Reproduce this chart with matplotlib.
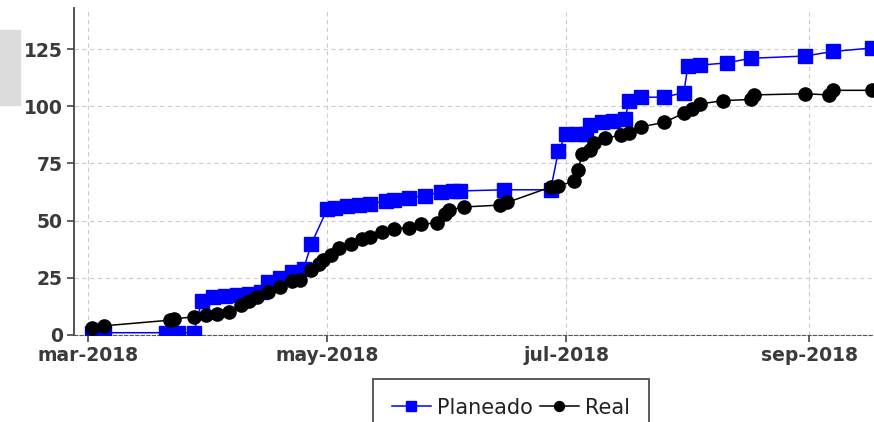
import pandas as pd
import matplotlib
matplotlib.use("Agg")
import matplotlib.pyplot as plt
from matplotlib.patches import Rectangle

# planned progress
plan_dates = ["2018-03-02", "2018-03-05", "2018-03-21", "2018-03-24", "2018-03-28",
              "2018-03-30", "2018-04-02", "2018-04-05", "2018-04-08", "2018-04-11",
              "2018-04-14", "2018-04-16", "2018-04-19", "2018-04-22", "2018-04-25",
              "2018-04-27", "2018-05-01", "2018-05-03", "2018-05-06", "2018-05-09",
              "2018-05-12", "2018-05-16", "2018-05-18", "2018-05-22", "2018-05-26",
              "2018-05-30", "2018-06-02", "2018-06-04", "2018-06-15", "2018-06-27",
              "2018-06-29", "2018-07-01", "2018-07-04", "2018-07-06", "2018-07-07",
              "2018-07-10", "2018-07-13", "2018-07-16", "2018-07-17", "2018-07-20",
              "2018-07-26", "2018-07-31", "2018-08-01", "2018-08-04", "2018-08-11",
              "2018-08-17", "2018-08-31", "2018-09-07", "2018-09-17"]
plan_vals = [1, 1, 1, 1, 1,
             15, 16.5, 17, 17.5, 18,
             19, 23, 25, 27.5, 29,
             40, 55, 55.5, 56.5, 57,
             57.5, 58.5, 59, 60, 61,
             62.5, 63, 63, 63.5, 63.5,
             80.5, 88, 88, 88, 92,
             93, 93.5, 94.5, 102.5, 104,
             104, 106, 117.5, 118, 119,
             121, 122, 124, 125.5]

# real progress
real_dates = ["2018-03-02", "2018-03-05", "2018-03-22", "2018-03-23", "2018-03-28",
              "2018-03-31", "2018-04-03", "2018-04-06", "2018-04-09", "2018-04-11",
              "2018-04-13", "2018-04-16", "2018-04-19", "2018-04-22", "2018-04-24",
              "2018-04-27", "2018-04-29", "2018-04-30", "2018-05-02", "2018-05-04",
              "2018-05-07", "2018-05-10", "2018-05-12", "2018-05-15", "2018-05-18",
              "2018-05-22", "2018-05-25", "2018-05-29", "2018-05-31", "2018-06-01",
              "2018-06-05", "2018-06-14", "2018-06-16", "2018-06-27", "2018-06-29",
              "2018-07-03", "2018-07-04", "2018-07-05", "2018-07-07", "2018-07-08",
              "2018-07-11", "2018-07-15", "2018-07-17", "2018-07-20", "2018-07-26",
              "2018-07-31", "2018-08-02", "2018-08-04", "2018-08-10", "2018-08-17",
              "2018-08-18", "2018-08-31", "2018-09-06", "2018-09-07", "2018-09-17"]
real_vals = [3, 4, 6.5, 7, 8,
             8.7, 9, 10, 13, 15,
             16.6, 19, 21, 23.5, 24,
             28.4, 31, 33, 35, 38,
             40, 42, 43, 45, 46.5,
             47, 48.5, 49, 53, 54.6,
             56, 56.8, 58, 64.7, 65,
             67.5, 72, 79, 81, 84,
             86, 87.5, 88.5, 91, 93,
             97, 99, 101, 102.5, 103,
             105, 105.5, 105, 107, 107]

month_ticks = ["2018-03-01", "2018-05-01", "2018-07-01", "2018-09-01"]
month_labels = ["mar-2018", "may-2018", "jul-2018", "sep-2018"]
y_ticks = [0, 25, 50, 75, 100, 125]

plan_x = pd.to_datetime(plan_dates)
real_x = pd.to_datetime(real_dates)

fig = plt.figure(figsize=(8.74, 4.22), dpi=100)
ax = fig.add_axes([74 / 874, 1 - 335 / 422, 1 - 74 / 874, 327 / 422])

ax.plot(plan_x, plan_vals, color="#0000ff", lw=1.1, marker="s", ms=10,
        mec="#0000ff", label="Planeado", zorder=3)
ax.plot(real_x, real_vals, color="black", lw=1.1, marker="o", ms=9.5,
        label="Real", zorder=4)

ax.set_xlim(pd.Timestamp("2018-02-25 10:00"), pd.Timestamp("2018-09-17 12:00"))
ax.set_ylim(0, 143)
ax.set_yticks(y_ticks)
ax.set_xticks(pd.to_datetime(month_ticks))
ax.set_xticklabels(month_labels)

ax.grid(True, color="#cccccc", linestyle=(0, (4, 3)), linewidth=0.8)
ax.set_axisbelow(True)
for s in ["top", "right"]:
    ax.spines[s].set_visible(False)
ax.spines["left"].set_color("#444444")
ax.spines["left"].set_linewidth(1.3)
ax.spines["bottom"].set_color("#555555")
ax.spines["bottom"].set_linestyle((0, (3, 2)))
ax.tick_params(axis="both", colors="#444444", labelcolor="#3a3a3a",
               labelsize=13.5, length=5, width=1.2, pad=3)
for lab in ax.get_xticklabels() + ax.get_yticklabels():
    lab.set_fontweight("semibold")

# grey block at left edge
fig.patches.append(Rectangle((0, 1 - 105 / 422), 20 / 874, 75 / 422,
                             transform=fig.transFigure, color="#dcdcdc", zorder=0))

leg = fig.legend(loc="upper center", bbox_to_anchor=(511 / 874, 1 - 379 / 422),
                 ncol=2, fontsize=15, frameon=True, fancybox=False,
                 handlelength=1.9, handletextpad=0.3, columnspacing=0.3,
                 borderpad=0.9, borderaxespad=0, markerscale=0.75)
leg.get_frame().set_edgecolor("#222222")
leg.get_frame().set_linewidth(1.3)
for t in leg.get_texts():
    t.set_color("#222222")

fig.savefig("out.png", dpi=100)
